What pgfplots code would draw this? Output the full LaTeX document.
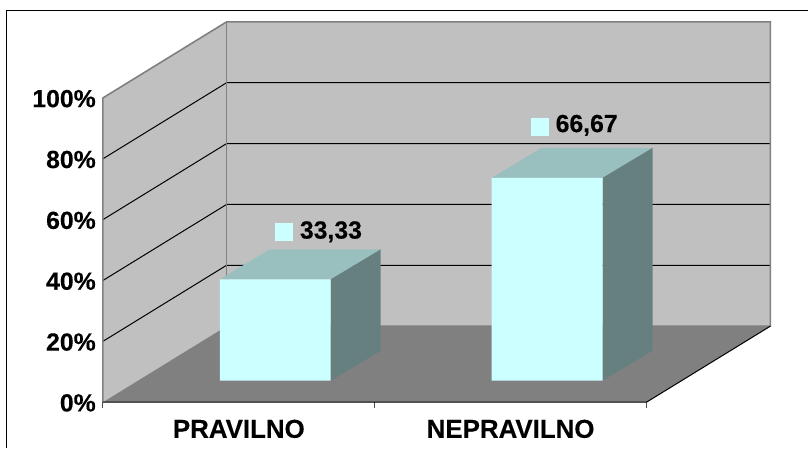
\documentclass[border=0pt]{standalone}
\usepackage{pgfplots}
\pgfplotsset{compat=1.18}
\usepackage{fontspec}
\setmainfont{Liberation Sans}[BoldFeatures={FakeBold=0.25}]
\definecolor{wallgrey}{HTML}{C0C0C0}
\definecolor{floorgrey}{HTML}{808080}
\definecolor{barfront}{HTML}{CCFFFF}
\definecolor{bartop}{HTML}{99C0BF}
\definecolor{barside}{HTML}{668080}
\begin{document}
\begin{tikzpicture}[x=1pt,y=1pt]
  % Page frame: white sheet with the chart-area outline on the top and left
  \fill[white] (0,0) rectangle (809,448);
  \draw[black,line width=1.2pt] (6.5,0) -- (6.5,437.5) -- (809,437.5);
  \begin{axis}[
    at={(103pt,45.5pt)}, anchor=south west,
    scale only axis, width=668pt, height=380.6pt,
    xmin=0, xmax=2.456, ymin=0, ymax=125,
    clip=false,
    axis x line*=bottom, axis y line*=left,
    axis line style={draw=none},
    tick align=outside,
    xtick={0,1,2}, xticklabels={,,},
    extra x ticks={0.5,1.5},
    extra x tick labels={PRAVILNO,NEPRAVILNO},
    extra x tick style={major tick length=0pt,
      tick label style={yshift=-14pt,font=\fontsize{25.9}{28}\selectfont\bfseries}},
    x tick style={draw=black!70,line width=1pt},
    major tick length=6pt,
    ytick={0,20,40,60,80,100},
    yticklabels={0\%,20\%,40\%,60\%,80\%,100\%},
    y tick style={draw=none},
    y tick label style={inner sep=0pt,xshift=-1pt,yshift=-0.7pt,font=\fontsize{24.8}{28}\selectfont\bfseries},
  ]
    % Walls and floor of the chart box
    \addplot[fill=wallgrey,draw=none] coordinates {(0,0) (0,100) (0.455,125) (0.455,25)} -- cycle;
    \addplot[fill=wallgrey,draw=none] coordinates {(0.455,25) (0.455,125) (2.456,125) (2.456,25)} -- cycle;
    % Gridlines run across the side wall and the back wall
    \addplot[black,line width=1pt] coordinates {(0,20) (0.455,45) (2.456,45)};
    \addplot[black,line width=1pt] coordinates {(0,40) (0.455,65) (2.456,65)};
    \addplot[black,line width=1pt] coordinates {(0,60) (0.455,85) (2.456,85)};
    \addplot[black,line width=1pt] coordinates {(0,80) (0.455,105) (2.456,105)};
    \addplot[fill=floorgrey,draw=none] coordinates {(0,0) (2,0) (2.456,25) (0.455,25)} -- cycle;
    % Wall edges
    \addplot[floorgrey,line width=1.6pt] coordinates {(0,0) (0,100) (0.455,125) (2.456,125) (2.456,25) (0.455,25)};
    \addplot[floorgrey,line width=1.6pt] coordinates {(0.455,25) (0.455,125)};
    % Front edge of the floor
    \addplot[black,line width=1pt] coordinates {(0,0) (2,0) (2.456,25)};
    % First bar
    \addplot[fill=bartop,draw=none,xshift=36.5pt,yshift=21.5pt] coordinates {(0.296,33.33) (0.704,33.33) (0.888,43.18) (0.480,43.18)} -- cycle;
    \addplot[fill=barside,draw=none,xshift=36.5pt,yshift=21.5pt] coordinates {(0.704,0) (0.888,9.85) (0.888,43.18) (0.704,33.33)} -- cycle;
    % Second bar
    \addplot[fill=bartop,draw=none,xshift=36.5pt,yshift=21.5pt] coordinates {(1.296,66.67) (1.704,66.67) (1.888,76.52) (1.480,76.52)} -- cycle;
    \addplot[fill=barside,draw=none,xshift=36.5pt,yshift=21.5pt] coordinates {(1.704,0) (1.888,9.85) (1.888,76.52) (1.704,66.67)} -- cycle;
    % Front faces of both bars
    \addplot[ybar,bar width=111pt,bar shift=0pt,fill=barfront,draw=none,xshift=36.5pt,yshift=21.5pt]
      coordinates {(0.5,33.33) (1.5,66.67)};
    % Legend keys beside the value labels
    \addplot[only marks,mark=square*,mark size=8.5pt,mark options={fill=barfront,draw=barfront,line width=0pt}]
      coordinates {(0.667,55.8) (1.608,90.6)};
    \node[anchor=west,inner sep=0pt,font=\fontsize{24.8}{28}\selectfont\bfseries] at (axis cs:0.724,56.0) {33,33};
    \node[anchor=west,inner sep=0pt,font=\fontsize{24.8}{28}\selectfont\bfseries] at (axis cs:1.665,91.0) {66,67};
  \end{axis}
\end{tikzpicture}
\end{document}
